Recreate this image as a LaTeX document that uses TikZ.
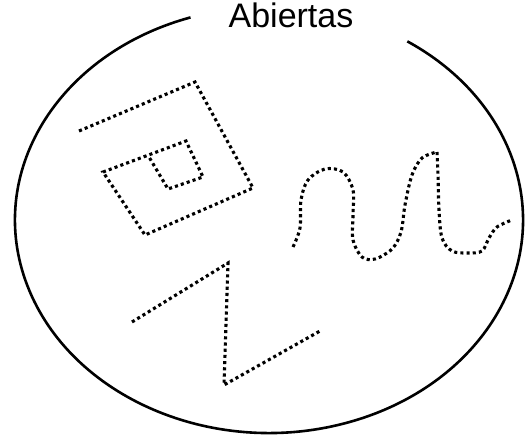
\documentclass[tikz,border=0pt]{standalone}
\usepackage{fontspec}
\setmainfont{Liberation Sans}
\begin{document}
\begin{tikzpicture}[x=1pt,y=-1pt,
  dotline/.style={line width=3.1pt, dash pattern=on 3.1pt off 3.1pt, line join=miter},
  rim/.style={line width=2.6pt}]
\useasboundingbox (0,0) rectangle (528,436);
% ellipse with a gap at the top
\draw[rim] (269,220) ++(252:254 and 213) arc[start angle=252, end angle=-57, x radius=254, y radius=213];
\node[anchor=base, font=\fontsize{34}{40}\selectfont, inner sep=0pt] (title) at (291,28) {Abiertas};
% square spiral
\draw[dotline] (79,131) -- (195,82) -- (253,188) -- (145,235) -- (103,172) -- (186,141) -- (203,177) -- (168,189) -- (149,157);
% Z shape
\draw[dotline] (132,322) -- (228,263) -- (224,385) -- (320,331);
% wave
\draw[dotline] plot[smooth, tension=0.55] coordinates {(293,247) (300,228) (301,200) (308,180) (325,169) (343,172) (353,190) (353,215) (353,240) (362,257) (375,259) (392,249) (401,232) (405,205) (412,175) (422,158) (437,152)};
\draw[dotline] plot[smooth, tension=0.55] coordinates {(437,152) (438,175) (439,210) (442,238) (452,251) (468,253) (482,251) (489,238) (497,227) (512,220)};
\end{tikzpicture}
\end{document}
